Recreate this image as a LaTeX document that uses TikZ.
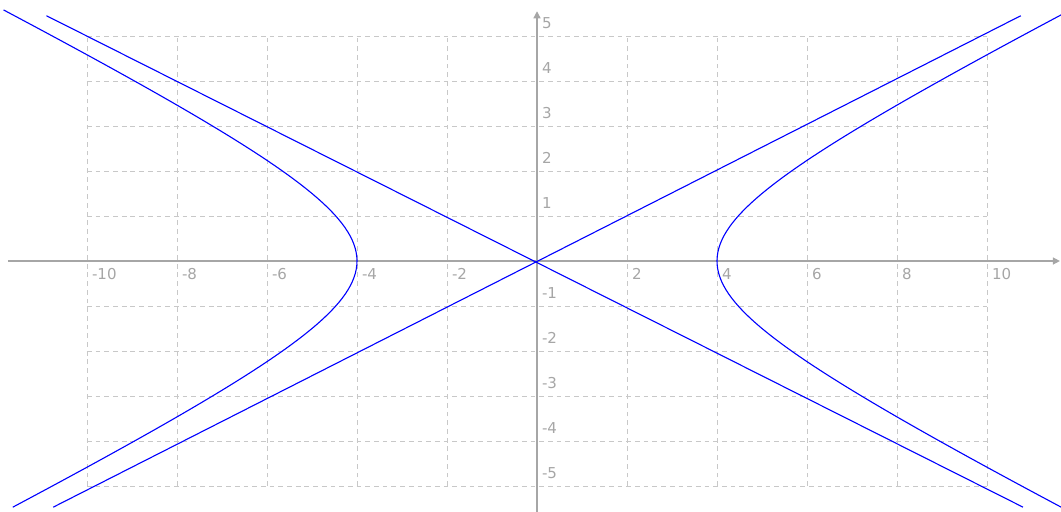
\documentclass[tikz,border=0pt]{standalone}
\usepackage{fontspec}
\setmainfont{DejaVu Sans}
\usetikzlibrary{arrows.meta}
\definecolor{axisgray}{HTML}{A6A6A6}
\definecolor{gridgray}{HTML}{C8C8C8}

\begin{document}
\begin{tikzpicture}[
    gridline/.style={gridgray, dash pattern=on 3pt off 2.5pt, line width=0.6pt},
    axisline/.style={axisgray, line width=0.8pt, -{Triangle[length=4.5pt,width=4.5pt]}},
    curve/.style={blue, line width=0.7pt},
    ticklabel/.style={axisgray, font=\fontsize{9.5}{11}\selectfont, inner sep=0pt},
    xtick/.style={ticklabel, anchor=north west, xshift=3pt, yshift=-4.5pt},
    ytick/.style={ticklabel, anchor=south west, xshift=3pt, yshift=4.5pt}
]
\useasboundingbox (-11.933,-5.556) rectangle (11.644,5.8);
\clip (-11.933,-5.556) rectangle (11.644,5.8);
% grid
\foreach \x in {-10,-8,...,10}
    \draw[gridline] (\x,-5) -- (\x,5);
\foreach \y in {-5,...,5}
    \draw[gridline] (-10,\y) -- (10,\y);
% axes
\coordinate (xstart) at (-11.76,0);
\coordinate (xend) at (11.62,0);
\coordinate (ystart) at (0,-5.7);
\coordinate (yend) at (0,5.55);
\draw[axisline] (xstart) -- (xend);
\draw[axisline] (ystart) -- (yend);
% tick labels
\foreach \x in {-10,-8,-6,-4,-2,2,4,6,8,10}
    \node[xtick] (xl\x) at (\x,0) {\x};
\foreach \y in {-5,...,-1,1,2,...,5}
    \node[ytick] (yl\y) at (0,\y) {\y};
% asymptotes
\coordinate (a1) at (-10.9,5.45);
\coordinate (a2) at (10.8,-5.47);
\coordinate (a3) at (-10.75,-5.47);
\coordinate (a4) at (10.75,5.45);
\draw[curve] (a1) -- (a2);
\draw[curve] (a3) -- (a4);
% hyperbola x^2/16 - y^2/4 = 1
\draw[curve, domain=-5.47:5.58, samples=120, variable=\t]
    plot ({4*sqrt(1+\t*\t/4)}, \t);
\draw[curve, domain=-5.47:5.58, samples=120, variable=\t]
    plot ({-4*sqrt(1+\t*\t/4)}, \t);
\end{tikzpicture}
\end{document}
